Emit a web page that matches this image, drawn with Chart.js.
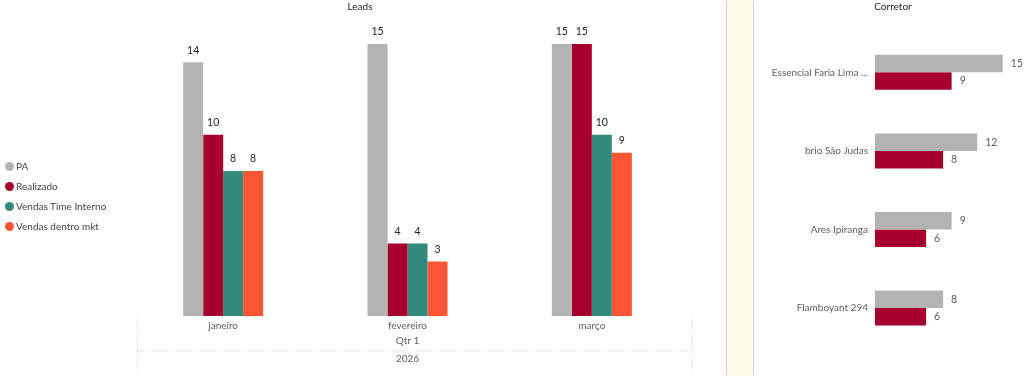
<!DOCTYPE html>
<html>
<head>
<meta charset="utf-8">
<script src="https://cdn.jsdelivr.net/npm/chart.js@4"></script>
<style>
    body {
        margin: 0;
        width: 1024px;
        height: 376px;
        background: #FFF9EA;
        position: relative;
        overflow: hidden;
        font-family: Lato, sans-serif;
    }
    .panel {
        position: absolute;
        box-sizing: border-box;
        background: #fff;
        border: 1px solid #d4d4d4;
        border-radius: 10px;
    }
    #leftPanel { left: -12px; top: -6px; width: 739px; height: 388px; }
    #rightPanel { left: 753px; top: -6px; width: 290px; height: 388px; }
    .chart-box { position: absolute; top: 0; height: 376px; }
    #leadsBox { left: 0; width: 726px; }
    #corretorBox { left: 755px; width: 269px; }
    #legend {
        position: absolute;
        left: 5px;
        top: 156px;
        font-size: 10px;
        color: #444;
    }
    .legend-item { display: flex; align-items: center; height: 20px; }
    .legend-dot { width: 9px; height: 9px; border-radius: 50%; margin-right: 2px; }
</style>
</head>
<body>
<div class="panel" id="leftPanel"></div>
<div class="panel" id="rightPanel"></div>
<div class="chart-box" id="leadsBox"><canvas id="leadsChart"></canvas></div>
<div class="chart-box" id="corretorBox"><canvas id="corretorChart"></canvas></div>
<div id="legend"></div>

<script>
// Data
const months = ['janeiro', 'fevereiro', 'março'];
const paLeads = [14, 15, 15];
const realizadoLeads = [10, 4, 15];
const timeInternoLeads = [8, 4, 10];
const dentroMktLeads = [8, 3, 9];
const seriesNames = ['PA', 'Realizado', 'Vendas Time Interno', 'Vendas dentro mkt'];
const seriesColors = ['#B3B3B3', '#A5002E', '#34897D', '#FF5535'];

const corretores = ['Essencial Faria Lima ...', 'brio São Judas', 'Ares Ipiranga', 'Flamboyant 294'];
const paCorretor = [15, 12, 9, 8];
const realizadoCorretor = [9, 8, 6, 6];

const quarterLabel = 'Qtr 1';
const yearLabel = '2026';

const FONT = "Lato, sans-serif";

// Legend (html)
const legendEl = document.getElementById('legend');
seriesNames.forEach((name, i) => {
    const item = document.createElement('div');
    item.className = 'legend-item';
    item.innerHTML = '<span class="legend-dot" style="background:' + seriesColors[i] + '"></span>' + name;
    legendEl.appendChild(item);
});

// Value labels above / beside bars
function valueLabels(horizontal, color, size) {
    return {
        id: 'valueLabels',
        afterDatasetsDraw(chart) {
            const ctx = chart.ctx;
            ctx.save();
            ctx.font = size + 'px ' + FONT;
            ctx.fillStyle = color;
            ctx.textBaseline = 'middle';
            chart.data.datasets.forEach((ds, di) => {
                chart.getDatasetMeta(di).data.forEach((el, i) => {
                    if (horizontal) {
                        ctx.textAlign = 'left';
                        ctx.fillText(ds.data[i], el.x + 8, el.y);
                    } else {
                        ctx.textAlign = 'center';
                        ctx.fillText(ds.data[i], el.x, el.y - 12);
                    }
                });
            });
            ctx.restore();
        }
    };
}

// Qtr / year hierarchy under the x axis
const hierarchy = {
    id: 'hierarchy',
    afterDraw(chart) {
        const ctx = chart.ctx;
        const a = chart.chartArea;
        const left = a.left + 6, right = a.right + 7;
        ctx.save();
        ctx.strokeStyle = '#cfcfcf';
        ctx.lineWidth = 1;
        ctx.setLineDash([1, 2]);
        ctx.beginPath();
        ctx.moveTo(left + 0.5, a.bottom + 2);
        ctx.lineTo(left + 0.5, a.bottom + 54);
        ctx.moveTo(right + 0.5, a.bottom + 2);
        ctx.lineTo(right + 0.5, a.bottom + 54);
        ctx.moveTo(left, a.bottom + 34.5);
        ctx.lineTo(right, a.bottom + 34.5);
        ctx.stroke();
        ctx.setLineDash([]);
        ctx.font = '10px ' + FONT;
        ctx.fillStyle = '#605E5C';
        ctx.textAlign = 'center';
        ctx.textBaseline = 'middle';
        const cx = (a.left + a.right) / 2;
        ctx.fillText(quarterLabel, cx, a.bottom + 25);
        ctx.fillText(yearLabel, cx, a.bottom + 43);
        ctx.restore();
    }
};

const leadsSeries = [paLeads, realizadoLeads, timeInternoLeads, dentroMktLeads];

new Chart(document.getElementById('leadsChart'), {
    type: 'bar',
    data: {
        labels: months,
        datasets: leadsSeries.map((d, i) => ({
            label: seriesNames[i],
            data: d,
            backgroundColor: seriesColors[i],
            categoryPercentage: 0.434,
            barPercentage: 1
        }))
    },
    options: {
        responsive: true,
        maintainAspectRatio: false,
        animation: false,
        layout: { padding: { left: 36, right: 42, top: 0, bottom: 0 } },
        plugins: {
            legend: { display: false },
            tooltip: { enabled: false },
            title: {
                display: true,
                text: 'Leads',
                color: '#252423',
                font: { family: FONT, size: 10, weight: 'normal' },
                padding: { top: 1, bottom: 31 }
            }
        },
        scales: {
            y: {
                min: 0, max: 15,
                ticks: { display: false },
                grid: { display: false },
                border: { display: false },
                afterFit: s => { s.width = 95; }
            },
            x: {
                grid: { display: false, drawTicks: false },
                border: { display: false },
                ticks: { color: '#605E5C', font: { family: FONT, size: 10 }, padding: 4 },
                afterFit: s => { s.height = 60; }
            }
        }
    },
    plugins: [valueLabels(false, '#252423', 10.5), hierarchy]
});

new Chart(document.getElementById('corretorChart'), {
    type: 'bar',
    data: {
        labels: corretores,
        datasets: [
            { label: 'PA', data: paCorretor, backgroundColor: seriesColors[0], categoryPercentage: 0.445, barPercentage: 1 },
            { label: 'Realizado', data: realizadoCorretor, backgroundColor: seriesColors[1], categoryPercentage: 0.445, barPercentage: 1 }
        ]
    },
    options: {
        indexAxis: 'y',
        responsive: true,
        maintainAspectRatio: false,
        animation: false,
        layout: { padding: { left: 7, right: 0, top: 0, bottom: 28.6 } },
        plugins: {
            legend: { display: false },
            tooltip: { enabled: false },
            title: {
                display: true,
                text: 'Corretor',
                color: '#252423',
                font: { family: FONT, size: 10, weight: 'normal' },
                padding: { top: 1, bottom: 20 }
            }
        },
        scales: {
            x: { display: false, min: 0, max: 17.5 },
            y: {
                grid: { display: false, drawTicks: false },
                border: { display: false },
                ticks: { color: '#605E5C', font: { family: FONT, size: 10 }, padding: 7 },
                afterFit: s => { s.width = 113; }
            }
        }
    },
    plugins: [valueLabels(true, '#605E5C', 10.5)]
});
</script>
</body>
</html>
